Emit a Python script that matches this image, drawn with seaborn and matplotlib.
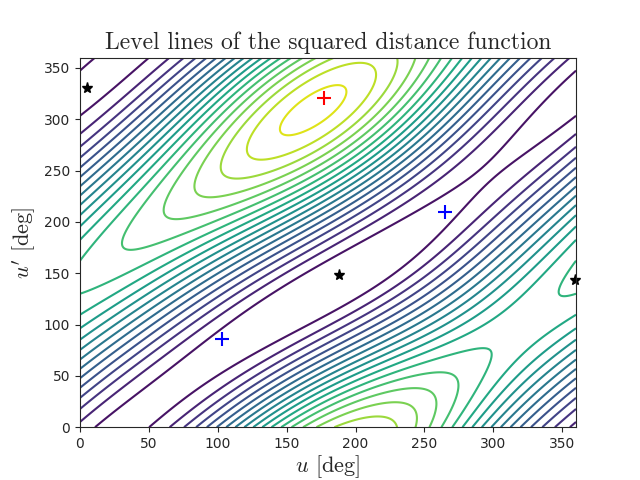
import numpy as np
import matplotlib.pyplot as plt
import seaborn as sns

sns.set_style("ticks")
plt.rcParams['mathtext.fontset'] = 'cm'

# orbital elements: a, e, i, Omega, omega (deg)
orb1 = [1.0, 0.3, 0.0, 0.0, 0.0]
orb2 = [1.2, 0.1, 20.0, 0.0, 40.0]
crit_min = [[103, 86], [265, 210]]
crit_max = [[177, 321]]
crit_saddle = [[5, 330], [188, 148], [359, 143]]
n_levels = 22

def position(orb, u):
    a, e, i, Om, om = orb
    i, Om, om = np.radians([i, Om, om])
    x = a * (np.cos(u) - e)
    y = a * np.sqrt(1 - e**2) * np.sin(u)
    co, so, cO, sO, ci, si = np.cos(om), np.sin(om), np.cos(Om), np.sin(Om), np.cos(i), np.sin(i)
    X = (cO*co - sO*so*ci)*x + (-cO*so - sO*co*ci)*y
    Y = (sO*co + cO*so*ci)*x + (-sO*so + cO*co*ci)*y
    Z = (so*si)*x + (co*si)*y
    return X, Y, Z

ug = np.linspace(0, 360, 400)
U, V = np.meshgrid(ug, ug)
p1 = position(orb1, np.radians(U))
p2 = position(orb2, np.radians(V))
D2 = sum((a - b)**2 for a, b in zip(p1, p2))

fig, ax = plt.subplots(figsize=(6.4, 4.8), dpi=100)
ax.contour(U, V, D2, levels=n_levels, cmap='viridis', linewidths=1.5)
for p in crit_min:
    ax.plot(p[0], p[1], '+', color='blue', ms=10, mew=1.5)
for p in crit_max:
    ax.plot(p[0], p[1], '+', color='red', ms=10, mew=1.5)
for p in crit_saddle:
    ax.plot(p[0], p[1], '*', color='black', ms=8, clip_on=False)
ax.set_xlim(0, 360)
ax.set_ylim(0, 360)
ax.set_title('Level lines of the squared distance function', fontsize=17, fontname='cmr10')
ax.set_xlabel(r"$u$ [deg]", fontsize=16, fontname='cmr10', labelpad=2)
ax.set_ylabel(r"$u'$ [deg]", fontsize=16, fontname='cmr10')
fig.savefig('out.png')
